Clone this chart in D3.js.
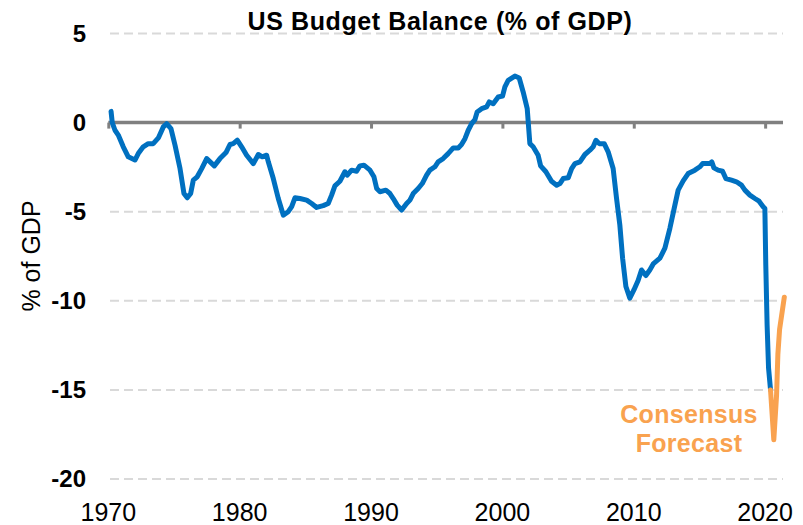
<!DOCTYPE html>
<html>
<head>
<meta charset="utf-8">
<script src="https://cdn.jsdelivr.net/npm/d3@7"></script>
<style>
  body { margin: 0; background: #fff; }
  text { font-family: "Liberation Sans", Arial, sans-serif; }
</style>
</head>
<body>
<div id="vis-holder"></div>
<script>
// Set dimensions
const width = 803;
const height = 525;

// historical budget balance, year (fractional) and % of GDP
const histYears = [1970.21, 1970.3, 1970.51, 1970.76, 1971.14, 1971.52, 1972.03, 1972.28, 1972.66, 1973.04,
  1973.42, 1973.81, 1974.19, 1974.44, 1974.77, 1975.08, 1975.46, 1975.76, 1976.01, 1976.27,
  1976.47, 1976.77, 1977.11, 1977.49, 1978.07, 1978.5, 1978.96, 1979.26, 1979.51, 1979.82,
  1980.15, 1980.53, 1981.04, 1981.42, 1981.72, 1982.05, 1982.18, 1982.56, 1982.94, 1983.32,
  1983.7, 1983.96, 1984.21, 1984.59, 1985.1, 1985.48, 1985.86, 1986.36, 1986.74, 1987.0,
  1987.25, 1987.63, 1988.01, 1988.19, 1988.52, 1988.9, 1989.15, 1989.46, 1989.92, 1990.22,
  1990.43, 1990.68, 1991.13, 1991.44, 1991.69, 1991.99, 1992.33, 1992.71, 1992.96, 1993.21,
  1993.59, 1993.9, 1994.23, 1994.48, 1994.86, 1995.11, 1995.49, 1995.87, 1996.26, 1996.64,
  1996.89, 1997.15, 1997.4, 1997.66, 1997.91, 1998.08, 1998.42, 1998.8, 1999.0, 1999.3,
  1999.68, 2000.01, 2000.19, 2000.44, 2000.95, 2001.28, 2001.58, 2001.89, 2002.09, 2002.34,
  2002.72, 2002.91, 2003.31, 2003.74, 2004.13, 2004.38, 2004.63, 2005.01, 2005.27, 2005.52,
  2005.9, 2006.28, 2006.66, 2006.91, 2007.12, 2007.37, 2007.75, 2008.05, 2008.43, 2008.69,
  2008.94, 2009.15, 2009.4, 2009.7, 2010.01, 2010.33, 2010.59, 2010.92, 2011.22, 2011.48,
  2011.99, 2012.37, 2012.75, 2013.13, 2013.38, 2013.76, 2014.14, 2014.65, 2015.03, 2015.24,
  2015.54, 2015.79, 2015.94, 2016.1, 2016.42, 2016.76, 2017.01, 2017.44, 2017.82, 2018.2,
  2018.46, 2018.84, 2019.22, 2019.54, 2019.85, 2019.98, 2020.05, 2020.15, 2020.26, 2020.41];
const histValues = [0.63, 0.0, -0.43, -0.7, -1.36, -1.92, -2.1, -1.74, -1.36, -1.18,
  -1.18, -0.86, -0.24, -0.06, -0.34, -1.27, -2.58, -3.98, -4.22, -3.98,
  -3.23, -3.04, -2.58, -2.02, -2.43, -2.02, -1.68, -1.23, -1.18, -0.99,
  -1.36, -1.83, -2.3, -1.79, -1.92, -1.83, -2.2, -3.14, -4.26, -5.19,
  -5.0, -4.72, -4.22, -4.26, -4.35, -4.54, -4.76, -4.66, -4.54, -4.07,
  -3.55, -3.29, -2.76, -2.95, -2.67, -2.73, -2.43, -2.39, -2.67, -3.04,
  -3.7, -3.88, -3.79, -3.98, -4.26, -4.63, -4.91, -4.54, -4.35, -3.98,
  -3.7, -3.42, -2.95, -2.67, -2.48, -2.2, -2.02, -1.74, -1.42, -1.42,
  -1.23, -0.9, -0.43, -0.06, 0.17, 0.6, 0.78, 0.88, 1.16, 1.06,
  1.44, 1.49, 2.0, 2.37, 2.61, 2.5, 1.72, 0.78, -1.18, -1.36,
  -1.83, -2.43, -2.76, -3.29, -3.51, -3.42, -3.14, -3.1, -2.58, -2.3,
  -2.2, -1.79, -1.55, -1.36, -0.99, -1.18, -1.18, -1.64, -2.58, -4.26,
  -5.75, -7.61, -9.2, -9.85, -9.39, -8.86, -8.27, -8.58, -8.27, -7.93,
  -7.61, -7.05, -5.93, -4.63, -3.79, -3.27, -2.86, -2.67, -2.48, -2.3,
  -2.3, -2.3, -2.2, -2.54, -2.67, -2.73, -3.14, -3.23, -3.32, -3.51,
  -3.79, -4.07, -4.26, -4.41, -4.72, -4.82, -7.99, -11.35, -13.77, -14.99];

// consensus forecast
const fcYears = [2020.41, 2020.66, 2020.87, 2020.97, 2021.1, 2021.46];
const fcValues = [-15.0, -17.8, -15.3, -13.0, -11.6, -9.8];

// axis ticks
const xTicks = [1970, 1980, 1990, 2000, 2010, 2020];
const yTicks = [5, 0, -5, -10, -15, -20];

const blue = "#0070C0";
const orange = "#F9A24F";

const svg = d3.select("#vis-holder")
              .append("svg")
              .attr("width", width)
              .attr("height", height);

// scales
const x = d3.scaleLinear()
            .domain([1970, 2021.36])
            .range([108.3, 783]);

const y = d3.scaleLinear()
            .domain([-20, 5])
            .range([479, 33.5]);

// dashed gridlines (not at zero)
svg.append("g")
   .selectAll("line")
   .data(yTicks.filter(d => d !== 0))
   .enter()
   .append("line")
     .attr("x1", 110)
     .attr("x2", 783)
     .attr("y1", d => y(d))
     .attr("y2", d => y(d))
     .attr("stroke", "#D9D9D9")
     .attr("stroke-width", 2)
     .attr("stroke-dasharray", "9,5");

// y labels
svg.append("g")
   .selectAll("text")
   .data(yTicks)
   .enter()
   .append("text")
     .attr("x", 86)
     .attr("y", d => y(d))
     .attr("dy", "0.35em")
     .attr("text-anchor", "end")
     .attr("font-size", "24px")
     .attr("font-weight", "bold")
     .attr("fill", "#000")
     .text(d => d);

// zero axis line with ticks
const xAxis = svg.append("g")
   .attr("transform", `translate(0,${y(0)})`)
   .call(d3.axisBottom(x).tickValues(xTicks).tickSize(6).tickFormat(""));
xAxis.select(".domain")
   .attr("d", `M${x(1970)},0H${x(2021.36)}`)
   .attr("stroke", "#808080")
   .attr("stroke-width", 3.5);
xAxis.selectAll(".tick line")
   .attr("stroke", "#808080")
   .attr("stroke-width", 3);

// x labels along the bottom
svg.append("g")
   .selectAll("text")
   .data(xTicks)
   .enter()
   .append("text")
     .attr("x", d => x(d))
     .attr("y", 521)
     .attr("text-anchor", "middle")
     .attr("font-size", "25px")
     .attr("fill", "#000")
     .text(d => d);

// lines
const line = d3.line()
               .x(d => x(d[0]))
               .y(d => y(d[1]));

svg.append("path")
   .datum(d3.zip(histYears, histValues))
   .attr("d", line)
   .attr("fill", "none")
   .attr("stroke", blue)
   .attr("stroke-width", 5)
   .attr("stroke-linejoin", "round")
   .attr("stroke-linecap", "round");

svg.append("path")
   .datum(d3.zip(fcYears, fcValues))
   .attr("d", line)
   .attr("fill", "none")
   .attr("stroke", orange)
   .attr("stroke-width", 5)
   .attr("stroke-linejoin", "round")
   .attr("stroke-linecap", "round");

// title
svg.append("text")
   .attr("x", 440)
   .attr("y", 30)
   .attr("text-anchor", "middle")
   .attr("font-size", "25px")
   .attr("font-weight", "bold")
   .attr("letter-spacing", "0.6px")
   .attr("fill", "#000")
   .text("US Budget Balance (% of GDP)");

// y axis title
svg.append("text")
   .attr("transform", "translate(40,256) rotate(-90)")
   .attr("text-anchor", "middle")
   .attr("font-size", "25px")
   .attr("fill", "#000")
   .text("% of GDP");

// forecast annotation
const note = svg.append("text")
   .attr("text-anchor", "middle")
   .attr("font-size", "25px")
   .attr("font-weight", "bold")
   .attr("letter-spacing", "0.3px")
   .attr("fill", orange);
note.append("tspan").attr("x", 689).attr("y", 423).text("Consensus");
note.append("tspan").attr("x", 689).attr("y", 452).text("Forecast");
</script>
</body>
</html>
